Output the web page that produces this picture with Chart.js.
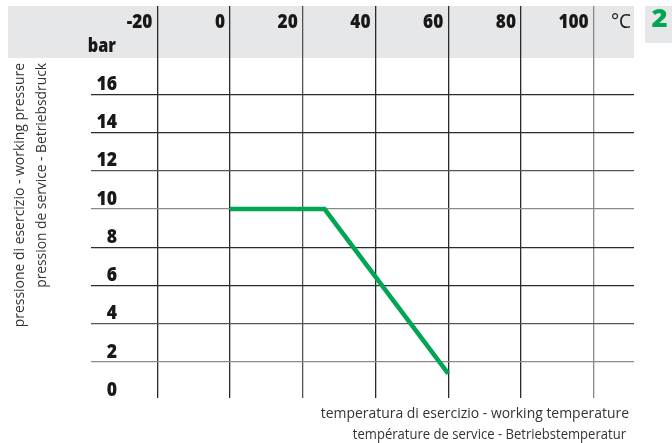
<!DOCTYPE html>
<html>
<head>
<meta charset="utf-8">
<script src="https://cdn.jsdelivr.net/npm/chart.js@4/dist/chart.umd.min.js"></script>
<style>
  html, body { margin: 0; padding: 0; background: #fff; }
  canvas { display: block; }
</style>
</head>
<body>
<canvas id="pressureChart" width="672" height="443"></canvas>
<script>
// pressure / temperature curve
const temperatures = [0, 26, 60];
const pressures = [10, 10, 1.4];

const tempTicks = [-20, 0, 20, 40, 60, 80, 100];
const pressureGrid = [2, 4, 6, 8, 10, 12, 14, 16];
const pressureLabels = [0, 2, 4, 6, 8, 10, 12, 14, 16];
const tempUnit = '°C';
const pressureUnit = 'bar';
const yTitle = ['pressione di esercizio - working pressure', 'pression de service - Betriebsdruck'];
const xTitle = ['temperatura di esercizio - working temperature', 'température de service - Betriebstemperatur'];
const sectionNo = '2';

const ink = '#1a1718';
const green = '#00a651';

function gridColor(ctx) {
  const v = ctx.tick ? ctx.tick.value : null;
  if (v === 2 || v === 10 || v === 100) return '#8a8a8a';
  if (v === 20 || v === 12 || v === 4) return '#555';
  return '#2b2b2b';
}

function drawText(ctx, text, x, y, font, align, sx, color) {
  ctx.save();
  ctx.translate(x, y);
  ctx.scale(sx, 1);
  ctx.font = font;
  ctx.fillStyle = color;
  ctx.textAlign = align;
  ctx.textBaseline = 'alphabetic';
  ctx.fillText(text, 0, 0);
  ctx.restore();
}

function drawUp(ctx, text, x, y, font, sx, color) {
  ctx.save();
  ctx.translate(x, y);
  ctx.rotate(-Math.PI / 2);
  ctx.scale(sx, 1);
  ctx.font = font;
  ctx.fillStyle = color;
  ctx.textAlign = 'right';
  ctx.textBaseline = 'alphabetic';
  ctx.fillText(text, 0, 0);
  ctx.restore();
}

const decorations = {
  id: 'decorations',
  beforeDraw(chart) {
    const ctx = chart.ctx;
    const area = chart.chartArea;
    ctx.save();
    ctx.fillStyle = '#e6e7e8';
    ctx.fillRect(8, area.top, area.right - 8, 52);
    ctx.fillRect(645, area.top, 27, 37);
    ctx.restore();
  },
  afterDraw(chart) {
    const ctx = chart.ctx;
    const x = chart.scales.x;
    const y = chart.scales.y;
    const bold = '800 18.5px "Open Sans"';

    tempTicks.forEach(function (v) {
      drawText(ctx, String(v), x.getPixelForValue(v) - 5, 27.5, bold, 'right', 0.93, ink);
    });
    drawText(ctx, tempUnit, 631, 27.5, '500 20px "Open Sans"', 'right', 0.95, ink);
    drawText(ctx, pressureUnit, 116, 52, '800 18.5px "Open Sans"', 'right', 0.88, ink);

    pressureLabels.forEach(function (v) {
      drawText(ctx, String(v), 117, y.getPixelForValue(v) - 4.5, bold, 'right', 0.95, ink);
    });

    drawText(ctx, sectionNo, 659.5, 27, '800 25px "Open Sans"', 'center', 1.1, green);

    const light = '15px "Open Sans"';
    drawUp(ctx, yTitle[0], 24, 63, light, 0.93, '#333');
    drawUp(ctx, yTitle[1], 46, 63, light, 0.92, '#333');
    drawText(ctx, xTitle[0], 629, 418, light, 'right', 0.93, '#333');
    drawText(ctx, xTitle[1], 626, 439, light, 'right', 0.87, '#333');
  }
};

new Chart(document.getElementById('pressureChart').getContext('2d'), {
  type: 'scatter',
  data: {
    datasets: [{
      data: temperatures.map(function (t, i) { return { x: t, y: pressures[i] }; }),
      showLine: true,
      borderColor: green,
      backgroundColor: green,
      borderWidth: 4.5,
      borderCapStyle: 'butt',
      borderJoinStyle: 'miter',
      pointRadius: 0,
      pointHoverRadius: 0,
      tension: 0
    }]
  },
  options: {
    responsive: false,
    animation: false,
    layout: { padding: { left: 91, right: 38, top: 6, bottom: 45 } },
    plugins: { legend: { display: false }, tooltip: { enabled: false } },
    scales: {
      x: {
        type: 'linear',
        min: -38.23,
        max: 111.08,
        afterBuildTicks: function (s) { s.ticks = tempTicks.map(function (v) { return { value: v }; }); },
        ticks: { display: false },
        grid: { color: gridColor, lineWidth: 1.3, drawTicks: false },
        border: { display: false }
      },
      y: {
        type: 'linear',
        min: 0.12,
        max: 20.62,
        afterBuildTicks: function (s) { s.ticks = pressureGrid.map(function (v) { return { value: v }; }); },
        ticks: { display: false },
        grid: { color: gridColor, lineWidth: 1.3, drawTicks: false },
        border: { display: false }
      }
    }
  },
  plugins: [decorations]
});
</script>
</body>
</html>
